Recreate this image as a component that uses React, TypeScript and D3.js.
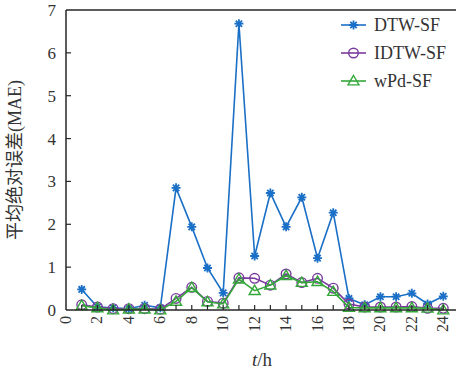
import * as d3 from 'd3'

const hours = d3.range(1, 25)
const dtwSF = [0.48, 0.07, 0.05, 0.03, 0.11, 0.05, 2.85, 1.94, 0.98, 0.4, 6.68, 1.26, 2.73, 1.94, 2.63, 1.21, 2.27, 0.27, 0.12, 0.31, 0.31, 0.39, 0.14, 0.32]
const idtwSF = [0.12, 0.07, 0.03, 0.03, 0.03, 0.02, 0.27, 0.53, 0.2, 0.16, 0.75, 0.74, 0.58, 0.84, 0.64, 0.74, 0.51, 0.14, 0.07, 0.07, 0.07, 0.08, 0.04, 0.04]
const wpdSF = [0.1, 0.05, 0.0, 0.02, 0.02, 0.0, 0.2, 0.52, 0.19, 0.14, 0.72, 0.45, 0.58, 0.8, 0.64, 0.66, 0.43, 0.06, 0.05, 0.05, 0.05, 0.05, 0.04, 0.0]
const xTicks = d3.range(0, 25, 2)
const yTicks = d3.range(0, 8)

const W = 456
const H = 379
const serif = '"Liberation Serif", "Noto Sans CJK SC", serif'
const ink = '#333'

const x = d3.scaleLinear().domain([0, 25]).range([66, 459])
const y = d3.scaleLinear().domain([0, 7]).range([310, 10])

const series = [
  { name: 'DTW-SF', values: dtwSF, color: '#1a6fc6', marker: 'star' },
  { name: 'IDTW-SF', values: idtwSF, color: '#7a3a9e', marker: 'circle' },
  { name: 'wPd-SF', values: wpdSF, color: '#35a83a', marker: 'triangle' },
]

function Marker({ kind, cx, cy, color }: { kind: string; cx: number; cy: number; color: string }) {
  if (kind === 'circle') return <circle cx={cx} cy={cy} r={4.8} fill="none" stroke={color} strokeWidth={1.4} />
  if (kind === 'triangle') {
    const s = 5.5
    return (
      <path
        d={`M${cx},${cy - s}L${cx + s},${cy + s * 0.7}L${cx - s},${cy + s * 0.7}Z`}
        fill="none"
        stroke={color}
        strokeWidth={1.4}
      />
    )
  }
  const r = 4.5
  const d = d3
    .range(4)
    .map((k) => {
      const a = (k * Math.PI) / 4
      return `M${cx - r * Math.cos(a)},${cy - r * Math.sin(a)}L${cx + r * Math.cos(a)},${cy + r * Math.sin(a)}`
    })
    .join('')
  return <path d={d} stroke={color} strokeWidth={1.8} />
}

export default function App() {
  const lineGen = d3
    .line<number>()
    .x((_, i) => x(hours[i]))
    .y((v) => y(v))

  return (
    <svg width={W} height={H} style={{ position: 'absolute', left: 0, top: 0, background: '#fff' }}>
      {/* series */}
      {series.map((s) => (
        <g key={s.name}>
          <path d={lineGen(s.values) ?? ''} fill="none" stroke={s.color} strokeWidth={1.6} />
          {s.values.map((v, i) => (
            <Marker key={i} kind={s.marker} cx={x(hours[i])} cy={y(v)} color={s.color} />
          ))}
        </g>
      ))}

      {/* frame */}
      <g stroke="#262626" strokeWidth={1.5} fill="none">
        <line x1={x(0)} x2={W} y1={y(0)} y2={y(0)} />
        <line x1={x(0)} x2={W} y1={y(7)} y2={y(7)} />
        <line x1={x(0)} x2={x(0)} y1={y(0)} y2={y(7)} />
      </g>

      {/* x ticks */}
      {d3.range(1, 25).map((t) => (
        <line key={t} x1={x(t)} x2={x(t)} y1={y(0)} y2={y(0) - 5} stroke="#262626" strokeWidth={1.2} />
      ))}
      {xTicks.map((t) => (
        <text
          key={t}
          transform={`translate(${x(t) + 5},${y(0) + 6}) rotate(-90)`}
          textAnchor="end"
          fontFamily={serif}
          fontSize={16}
          fill={ink}
        >
          {t}
        </text>
      ))}

      {/* y ticks */}
      {yTicks.map((t) => (
        <g key={t}>
          {t > 0 && t < 7 && <line x1={x(0)} x2={x(0) + 5} y1={y(t)} y2={y(t)} stroke="#262626" strokeWidth={1.2} />}
          <text x={x(0) - 10} y={y(t) + 6} textAnchor="end" fontFamily={serif} fontSize={17} fill={ink}>
            {t}
          </text>
        </g>
      ))}

      {/* axis titles */}
      <text
        transform={`translate(${21},${160}) rotate(-90)`}
        textAnchor="middle"
        fontFamily={serif}
        fontSize={18}
        fill={ink}
      >
        平均绝对误差(MAE)
      </text>
      <text x={262} y={366} textAnchor="middle" fontFamily={serif} fontSize={19} fill={ink}>
        <tspan fontStyle="italic">t</tspan>/h
      </text>

      {/* legend */}
      {series.map((s, i) => {
        const ly = 25 + i * 28
        return (
          <g key={s.name}>
            <line x1={341} x2={366} y1={ly} y2={ly} stroke={s.color} strokeWidth={1.6} />
            <Marker kind={s.marker} cx={353.5} cy={ly} color={s.color} />
            <text x={374} y={ly + 6} fontFamily={serif} fontSize={18} fill={ink}>
              {s.name}
            </text>
          </g>
        )
      })}
    </svg>
  )
}
